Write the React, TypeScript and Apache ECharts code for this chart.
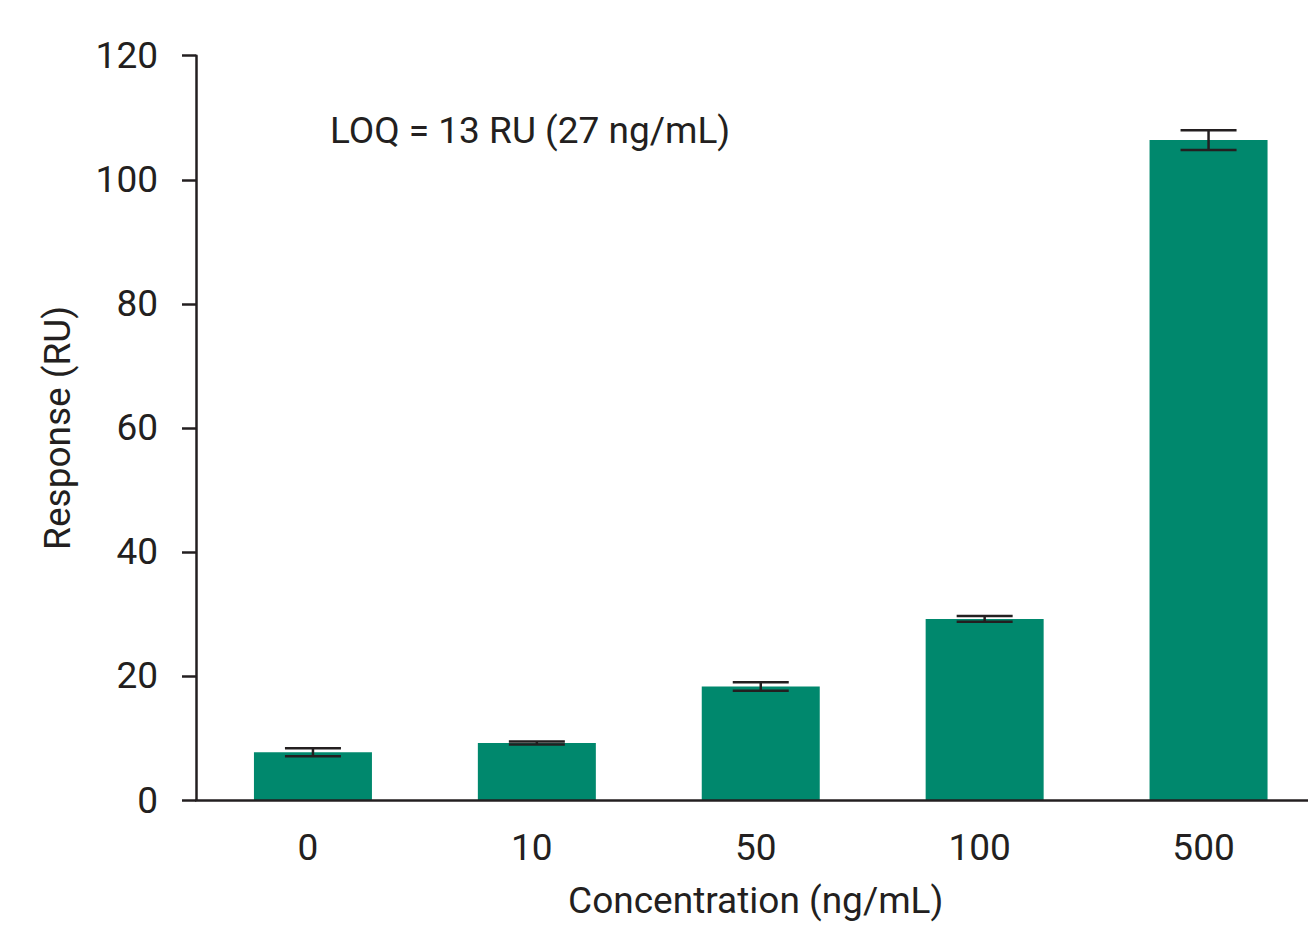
import React, { useEffect, useRef } from "react";
import * as echarts from "echarts";

const categories = ["0", "10", "50", "100", "500"];
const means = [7.7, 9.2, 18.3, 29.2, 106.4];
const errors = [0.65, 0.25, 0.7, 0.45, 1.6];
const yTicks = { min: 0, max: 120, interval: 20 };
const annotation = "LOQ = 13 RU (27 ng/mL)";
const xName = "Concentration (ng/mL)";
const yName = "Response (RU)";

const INK = "#231f20";
const BAR = "#00886d";
const FONT = "Roboto";
const FS = 37;

export default function App() {
  const ref = useRef<HTMLDivElement>(null);
  useEffect(() => {
    if (!ref.current) return;
    const chart = echarts.init(ref.current, null, { renderer: "svg" });
    const errData = means.map((m, i) => [i, m - errors[i], m + errors[i]]);
    chart.setOption({
      animation: false,
      backgroundColor: "#ffffff",
      textStyle: { fontFamily: FONT },
      grid: [
        { left: 196, right: -7.5, top: 55.7, bottom: 125, containLabel: false, outerBoundsMode: "none" },
        { left: 201, right: -12.5, top: 55.7, bottom: 125, containLabel: false, outerBoundsMode: "none" },
      ],
      xAxis: [
        {
          type: "category",
          gridIndex: 0,
          data: categories,
          z: 5,
          axisLine: { lineStyle: { color: INK, width: 2.5 } },
          axisTick: { show: false },
          axisLabel: { color: INK, fontSize: FS, margin: 29, fontFamily: FONT },
          name: xName,
          nameLocation: "middle",
          nameGap: 82,
          nameTextStyle: { color: INK, fontSize: FS, fontFamily: FONT },
        },
        {
          type: "category",
          gridIndex: 1,
          data: categories,
          show: false,
        },
      ],
      yAxis: [
        {
          type: "value",
          gridIndex: 0,
          min: yTicks.min,
          max: yTicks.max,
          interval: yTicks.interval,
          splitLine: { show: false },
          axisLine: { show: true, lineStyle: { color: INK, width: 2.5 } },
          axisTick: { show: true, length: 14, lineStyle: { color: INK, width: 2.5 } },
          axisLabel: { color: INK, fontSize: FS, margin: 38, fontFamily: FONT },
          name: yName,
          nameLocation: "middle",
          nameGap: 120,
          nameTextStyle: { color: INK, fontSize: FS, fontFamily: FONT },
        },
        {
          type: "value",
          gridIndex: 1,
          min: yTicks.min,
          max: yTicks.max,
          interval: yTicks.interval,
          show: false,
        },
      ],
      graphic: [
        {
          type: "text",
          left: 330,
          top: 112,
          style: { text: annotation, fill: INK, fontSize: FS, fontFamily: FONT },
        },
      ],
      series: [
        {
          type: "bar",
          xAxisIndex: 1,
          yAxisIndex: 1,
          data: means,
          barWidth: 118,
          itemStyle: { color: BAR },
          z: 2,
        },
        {
          type: "custom",
          xAxisIndex: 1,
          yAxisIndex: 1,
          z: 4,
          data: errData,
          renderItem: (params: any, api: any) => {
            const x = api.value(0);
            const lo = api.coord([x, api.value(1)]);
            const hi = api.coord([x, api.value(2)]);
            const hw = 28;
            const style = { stroke: INK, lineWidth: 2.5 };
            return {
              type: "group",
              children: [
                { type: "line", shape: { x1: lo[0], y1: lo[1], x2: hi[0], y2: hi[1] }, style },
                { type: "line", shape: { x1: lo[0] - hw, y1: lo[1], x2: lo[0] + hw, y2: lo[1] }, style },
                { type: "line", shape: { x1: hi[0] - hw, y1: hi[1], x2: hi[0] + hw, y2: hi[1] }, style },
              ],
            };
          },
        },
      ],
    });
    return () => chart.dispose();
  }, []);
  return (
    <div
      ref={ref}
      style={{ position: "absolute", left: 0, top: 0, width: 1308, height: 925 }}
    />
  );
}
